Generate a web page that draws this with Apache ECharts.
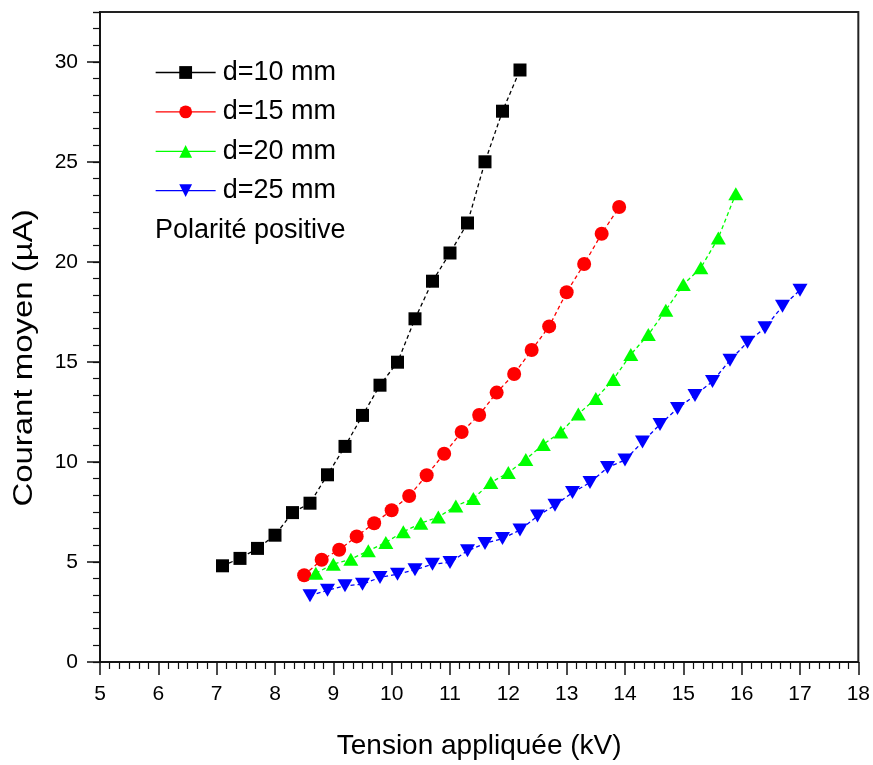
<!DOCTYPE html>
<html>
<head>
<meta charset="utf-8">
<script src="https://cdn.jsdelivr.net/npm/echarts@6/dist/echarts.min.js"></script>
<style>
  html, body { margin: 0; padding: 0; background: #fff; }
  #chart { width: 873px; height: 765px; }
</style>
</head>
<body>
<div id="chart"></div>
<script>
// Mean current vs. applied voltage, positive polarity, four gap distances
const seriesNames = ['d=10 mm', 'd=15 mm', 'd=20 mm', 'd=25 mm'];

const voltD10 = [7.1, 7.4, 7.7, 8.0, 8.3, 8.6, 8.9, 9.2, 9.5, 9.8, 10.1, 10.4, 10.7, 11.0, 11.3, 11.6, 11.9, 12.2];
const currD10 = [4.81, 5.18, 5.68, 6.34, 7.47, 7.94, 9.36, 10.78, 12.33, 13.84, 14.99, 17.16, 19.04, 20.45, 21.95, 25.01, 27.54, 29.6];

const voltD15 = [8.5, 8.8, 9.1, 9.4, 9.7, 10.0, 10.3, 10.6, 10.9, 11.2, 11.5, 11.8, 12.1, 12.4, 12.7, 13.0, 13.3, 13.6, 13.9];
const currD15 = [4.34, 5.11, 5.61, 6.28, 6.94, 7.59, 8.30, 9.34, 10.41, 11.50, 12.35, 13.47, 14.40, 15.60, 16.78, 18.49, 19.90, 21.41, 22.75];

const voltD20 = [8.7, 9.0, 9.3, 9.6, 9.9, 10.2, 10.5, 10.8, 11.1, 11.4, 11.7, 12.0, 12.3, 12.6, 12.9, 13.2, 13.5, 13.8, 14.1, 14.4, 14.7, 15.0, 15.3, 15.6, 15.9];
const currD20 = [4.44, 4.89, 5.14, 5.56, 5.98, 6.51, 6.94, 7.25, 7.80, 8.17, 8.97, 9.47, 10.13, 10.88, 11.50, 12.40, 13.17, 14.13, 15.38, 16.37, 17.59, 18.87, 19.71, 21.20, 23.41];

const voltD25 = [8.6, 8.9, 9.2, 9.5, 9.8, 10.1, 10.4, 10.7, 11.0, 11.3, 11.6, 11.9, 12.2, 12.5, 12.8, 13.1, 13.4, 13.7, 14.0, 14.3, 14.6, 14.9, 15.2, 15.5, 15.8, 16.1, 16.4, 16.7, 17.0];
const currD25 = [3.31, 3.59, 3.81, 3.89, 4.23, 4.39, 4.61, 4.89, 4.98, 5.56, 5.93, 6.17, 6.60, 7.30, 7.84, 8.47, 8.97, 9.72, 10.10, 11.00, 11.88, 12.68, 13.33, 14.03, 15.09, 15.99, 16.71, 17.79, 18.59];

const yMajorTicks = [0, 5, 10, 15, 20, 25, 30];

const xTitle = 'Tension appliquée (kV)';
const yTitle = 'Courant moyen (µA)';
const noteText = 'Polarité positive';

const FONT = '"Liberation Sans", Arial, sans-serif';

function pairs(xs, ys) {
  return xs.map((x, i) => [x, ys[i]]);
}

const styles = [
  { color: '#000000', symbol: 'rect', symbolSize: 13 },
  { color: '#ff0000', symbol: 'circle', symbolSize: 14 },
  { color: '#00ff00', symbol: 'triangle', symbolSize: [15, 13] },
  { color: '#0000ff', symbol: 'path://M0,0 L10,0 L5,9 Z', symbolSize: [15, 13] }
];
const dataSets = [
  pairs(voltD10, currD10),
  pairs(voltD15, currD15),
  pairs(voltD20, currD20),
  pairs(voltD25, currD25)
];

const chart = echarts.init(document.getElementById('chart'), null, { renderer: 'canvas' });

const axisLine = { show: true, lineStyle: { color: '#111', width: 1.5 } };

chart.setOption({
  animation: false,
  backgroundColor: '#ffffff',
  textStyle: { fontFamily: FONT },
  grid: {
    left: 100, right: 13, top: 12, bottom: 102,
    show: true, borderColor: '#222', borderWidth: 2, backgroundColor: 'transparent'
  },
  legend: {
    orient: 'vertical',
    left: 155, top: 59,
    padding: 0,
    itemWidth: 60, itemHeight: 16, itemGap: 12.4,
    data: seriesNames,
    lineStyle: { type: 'solid', width: 1.3 },
    textStyle: { fontSize: 27, color: '#000', fontFamily: FONT, lineHeight: 27, padding: [0, 0, 0, 2] }
  },
  xAxis: {
    type: 'value', min: 5, max: 18, interval: 1,
    name: xTitle, nameLocation: 'middle', nameGap: 70,
    nameTextStyle: { fontSize: 28, color: '#000', fontFamily: FONT },
    axisLine: axisLine,
    axisTick: { show: true, inside: false, length: 13, lineStyle: { color: '#111', width: 1.5 } },
    minorTick: { show: true, splitNumber: 6, length: 7, lineStyle: { color: '#111', width: 1.2 } },
    axisLabel: { fontSize: 21, color: '#000', margin: 22, fontFamily: FONT },
    splitLine: { show: false }
  },
  yAxis: [
    {
      type: 'value', min: 0, max: 32.5, interval: 5, position: 'left',
      axisLine: axisLine,
      axisTick: { show: true, inside: false, length: 13, customValues: yMajorTicks, lineStyle: { color: '#111', width: 1.5 } },
      axisLabel: { fontSize: 21, color: '#000', margin: 22, customValues: yMajorTicks, fontFamily: FONT },
      splitLine: { show: false }
    },
    {
      // minor ticks, six per major step
      type: 'value', min: 0, max: 32.5, interval: 5 / 6, position: 'left', offset: 0,
      axisLine: { show: false },
      axisTick: { show: true, inside: false, length: 7, lineStyle: { color: '#111', width: 1.2 } },
      axisLabel: { show: false },
      splitLine: { show: false }
    }
  ],
  graphic: [
    {
      // vertical axis title, stretched along its reading direction
      type: 'text', x: 25, y: 358, rotation: Math.PI / 2, scaleX: 1.22, scaleY: 1,
      style: { text: yTitle, fill: '#000', font: '27px ' + FONT, textAlign: 'center', textVerticalAlign: 'middle' }
    },
    {
      type: 'text', left: 155, top: 217,
      style: { text: noteText, fill: '#000', font: '27px ' + FONT }
    }
  ],
  series: dataSets.map((d, i) => ({
    name: seriesNames[i],
    type: 'line',
    yAxisIndex: 0,
    data: d,
    symbol: styles[i].symbol,
    symbolSize: styles[i].symbolSize,
    showAllSymbol: true,
    itemStyle: { color: styles[i].color, borderWidth: 0 },
    lineStyle: { color: styles[i].color, width: 1.3, type: [4, 3] },
    z: 3 + i
  }))
});
</script>
</body>
</html>
